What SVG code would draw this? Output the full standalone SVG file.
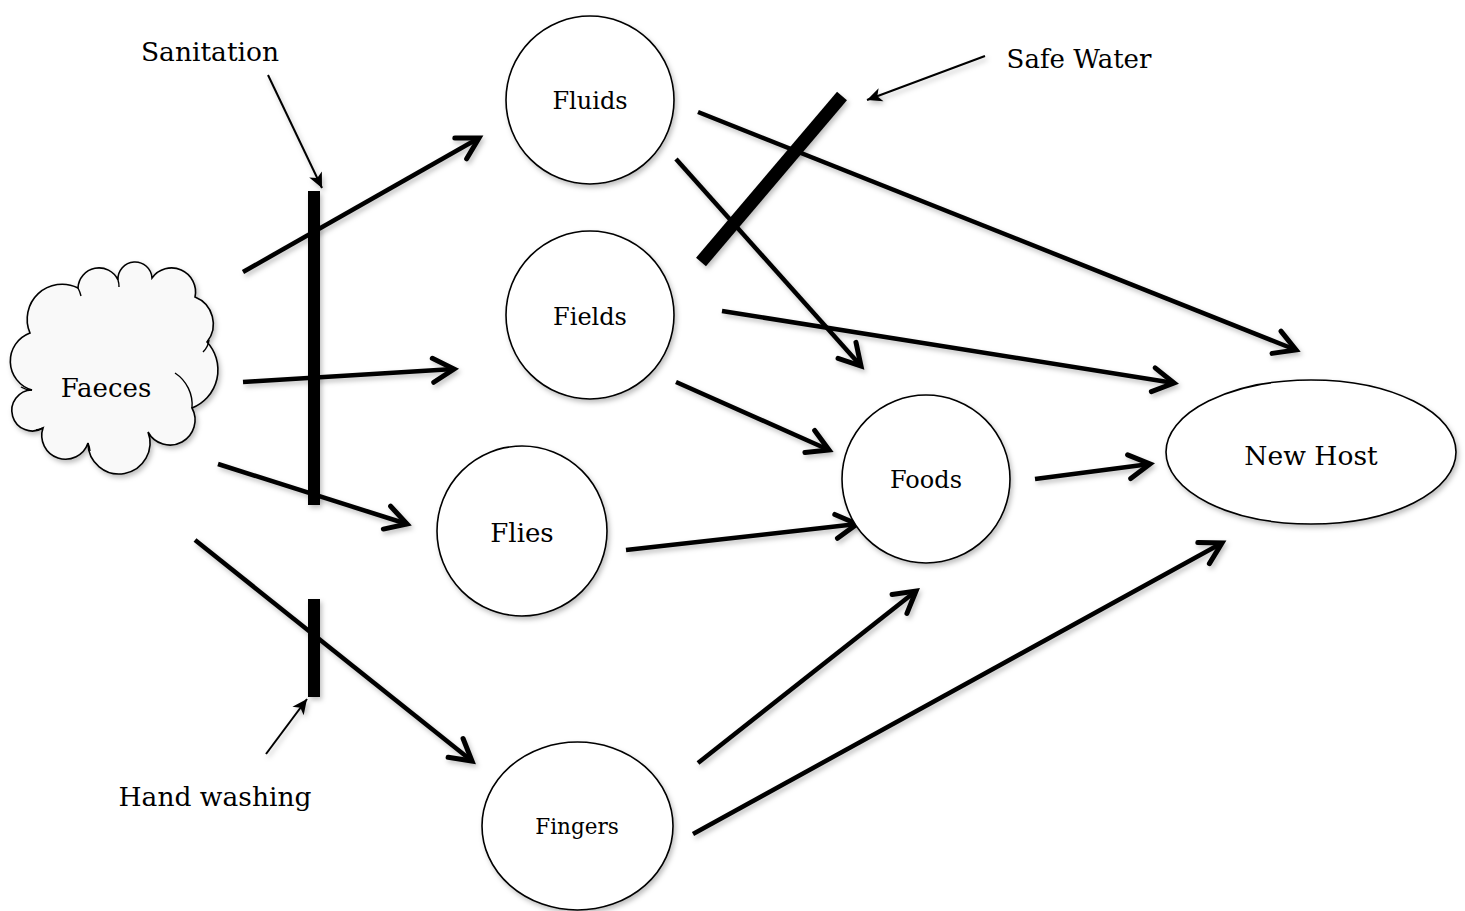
<svg xmlns="http://www.w3.org/2000/svg" width="1465" height="911" viewBox="0 0 1465 911">
<style>
.node{fill:#fff;stroke:#000;stroke-width:1.6}
.lbl{font-family:"DejaVu Serif","Liberation Serif",serif;fill:#000;text-anchor:middle}
.conn{stroke:#000;stroke-width:4.5;fill:none;marker-end:url(#open)}
.thin{stroke:#000;stroke-width:2;fill:none;marker-end:url(#solid)}
.bar{stroke:#000;fill:none;stroke-linecap:butt}
</style>
<defs>
<filter id="sh" x="-20%" y="-20%" width="140%" height="140%">
<feDropShadow dx="2" dy="3" stdDeviation="2.5" flood-color="#000" flood-opacity="0.25"/>
</filter>
<marker id="open" markerUnits="userSpaceOnUse" viewBox="-26 -16 30 32" refX="0" refY="0" markerWidth="30" markerHeight="32" orient="auto" overflow="visible">
<path d="M-21,-12 L0,0 L-21,12" fill="none" stroke="#000" stroke-width="5" stroke-linecap="round" stroke-linejoin="miter"/>
</marker>
<marker id="solid" markerUnits="userSpaceOnUse" viewBox="-16 -8 18 16" refX="0" refY="0" markerWidth="18" markerHeight="16" orient="auto" overflow="visible">
<path d="M-15,-7 L0,0 L-15,7 L-11,0 Z" fill="#000"/>
</marker>
</defs>
<rect width="1465" height="911" fill="#fff"/>

<g id="connectors" filter="url(#sh)">
<line class="conn" x1="243" y1="272" x2="479" y2="138"/>
<line class="conn" x1="243" y1="382" x2="454" y2="369"/>
<line class="conn" x1="218" y1="464" x2="407" y2="524"/>
<line class="conn" x1="195" y1="540" x2="472" y2="761"/>
<line class="conn" x1="698" y1="112" x2="1296" y2="350"/>
<line class="conn" x1="676" y1="159" x2="861" y2="366"/>
<line class="conn" x1="722" y1="311" x2="1174" y2="383"/>
<line class="conn" x1="676" y1="382" x2="829" y2="450"/>
<line class="conn" x1="1035" y1="479" x2="1150" y2="464"/>
<line class="conn" x1="626" y1="550" x2="857" y2="524"/>
<line class="conn" x1="698" y1="763" x2="916" y2="591"/>
<line class="conn" x1="693" y1="834" x2="1222" y2="543"/>
</g>

<g id="barriers" filter="url(#sh)">
<line class="bar" x1="314" y1="191" x2="314" y2="505" stroke-width="12"/>
<line class="bar" x1="314" y1="599" x2="314" y2="697" stroke-width="12"/>
<line class="bar" x1="701" y1="262" x2="842" y2="96" stroke-width="13"/>
<line class="thin" x1="268" y1="75" x2="322" y2="188"/>
<line class="thin" x1="985" y1="56" x2="867" y2="100"/>
<line class="thin" x1="266" y1="754" x2="307" y2="699"/>
</g>

<g id="faeces">
<path filter="url(#sh)" fill="#f9f9f9" stroke="#000" stroke-width="1.6" d="M30,333 A35,35 0 0 1 78,288 A21,21 0 0 1 118,280 A17,17 0 0 1 152,278 A24,24 0 0 1 195,297 A29,29 0 0 1 207,342 A41,41 0 0 1 192,408 A25,25 0 0 1 148,432 A31,31 0 1 1 88,443 A23.5,23.5 0 0 1 43,428 A20.5,20.5 0 1 1 32,390 A30,30 0 0 1 30,333 Z"/>
<path fill="none" stroke="#000" stroke-width="1.4" d="M175,373 A38,38 0 0 1 192,408 M203,352 A20,20 0 0 0 209,340 M78,288 A35,35 0 0 1 81,296 M118,280 A21,21 0 0 1 119,287 M88,443 A30,30 0 0 1 90,451 M43,428 A23,23 0 0 1 36,430 M32,390 A20,20 0 0 1 21,387"/>
<text class="lbl" x="106" y="397" font-size="26">Faeces</text>
</g>

<g id="fluids"><circle class="node" cx="590" cy="100" r="84" filter="url(#sh)"/><text class="lbl" x="590" y="109" font-size="24">Fluids</text></g>
<g id="fields"><circle class="node" cx="590" cy="315" r="84" filter="url(#sh)"/><text class="lbl" x="590" y="325" font-size="24">Fields</text></g>
<g id="flies"><circle class="node" cx="522" cy="531" r="85" filter="url(#sh)"/><text class="lbl" x="522" y="542" font-size="26">Flies</text></g>
<g id="foods"><circle class="node" cx="926" cy="479" r="84" filter="url(#sh)"/><text class="lbl" x="926" y="488" font-size="24">Foods</text></g>
<g id="fingers"><ellipse class="node" cx="577.5" cy="826" rx="95.5" ry="84" filter="url(#sh)"/><text class="lbl" x="577" y="834" font-size="21.5">Fingers</text></g>
<g id="newhost"><ellipse class="node" cx="1311" cy="452" rx="145" ry="72" filter="url(#sh)"/><text class="lbl" x="1311" y="465" font-size="26.5">New Host</text></g>

<g id="labels">
<text class="lbl" x="210" y="61" font-size="26.5">Sanitation</text>
<text class="lbl" x="1079" y="68" font-size="26">Safe Water</text>
<text class="lbl" x="215" y="806" font-size="26.5">Hand washing</text>
</g>
</svg>
